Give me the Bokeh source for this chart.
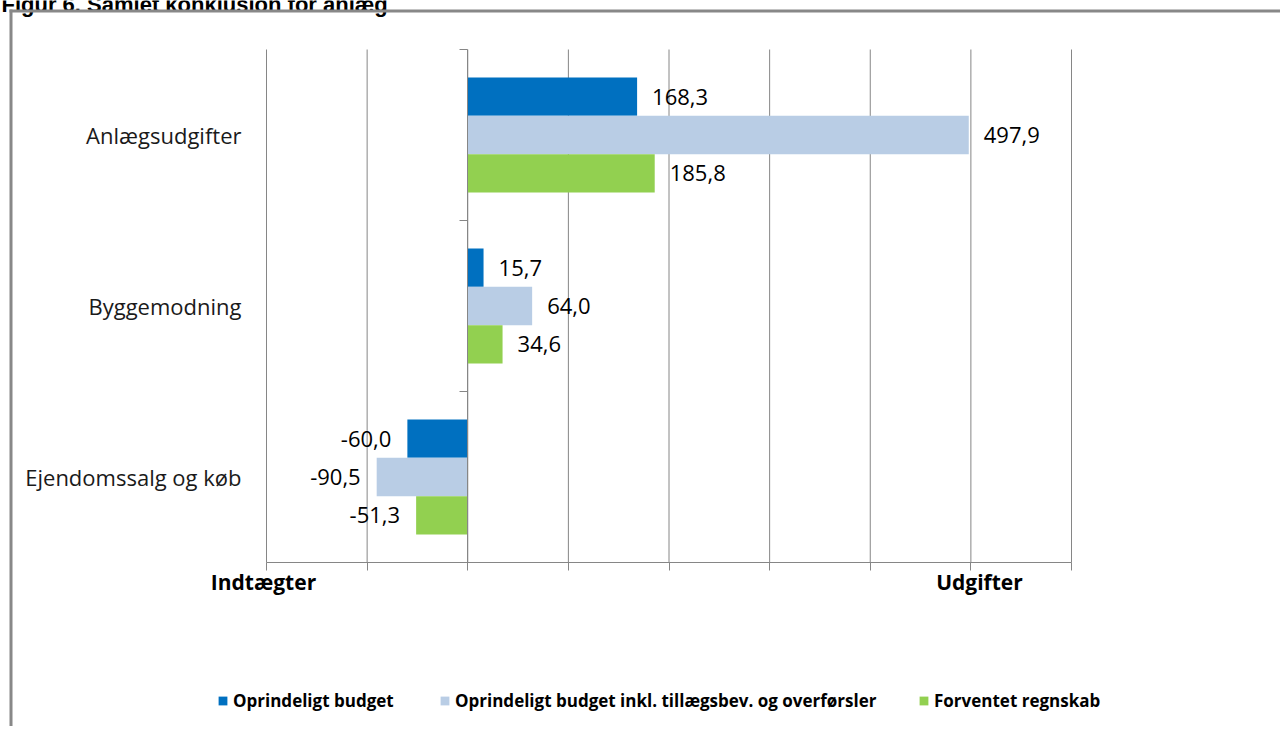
from bokeh.plotting import figure
from bokeh.models import (Range1d, LinearAxis, FixedTicker, ColumnDataSource, Legend,
                          LegendItem, Label, BoxAnnotation)
from bokeh.core.properties import value, field
from bokeh.embed import file_html
from bokeh.resources import INLINE

# ---- data ----
title_text = "Figur 6. Samlet konklusion for anlæg"
categories = ["Anlægsudgifter", "Byggemodning", "Ejendomssalg og køb"]
series_names = ["Oprindeligt budget",
                "Oprindeligt budget inkl. tillægsbev. og overførsler",
                "Forventet regnskab"]
oprindeligt_budget = [168.3, 15.7, -60.0]
budget_inkl_tillaeg = [497.9, 64.0, -90.5]
forventet_regnskab = [185.8, 34.6, -51.3]
x_ticks = [-200, -100, 0, 100, 200, 300, 400, 500, 600]
side_labels = ["Indtægter", "Udgifter"]

colors = ["#0070C0", "#B9CDE5", "#92D050"]
series_values = [oprindeligt_budget, budget_inkl_tillaeg, forventet_regnskab]

GRID = "#868686"
FONT = "Open Sans"

# ---- layout: the frame fills the whole canvas; plot area placed by pixel targets ----
W, H = 1280, 726
PX_LEFT, PX_RIGHT = 266, 1071     # pixels of first / last x tick
PX_TOP, PX_BOTTOM = 49, 562       # pixels of top / bottom of category band

n = len(categories)
sx = (PX_RIGHT - PX_LEFT) / (x_ticks[-1] - x_ticks[0])
x_start = x_ticks[0] - PX_LEFT / sx
x_end = x_start + W / sx
sy = (PX_BOTTOM - PX_TOP) / n
y_end = n + PX_TOP / sy
y_start = y_end - H / sy


def dx(px):
    return x_start + px / sx


def dy(py):
    return y_end - py / sy


centers = [n - i - 0.5 for i in range(n)]
bar_h = 0.224
offsets = [bar_h, 0.0, -bar_h]

p = figure(width=W, height=H, output_backend="svg", toolbar_location=None, title=None,
           x_range=Range1d(x_start, x_end), y_range=Range1d(y_start, y_end),
           min_border=0, x_axis_location=None, y_axis_location=None)
p.outline_line_color = None
p.background_fill_color = "white"
p.border_fill_color = "white"
p.xgrid.grid_line_color = None
p.ygrid.grid_line_color = None

# vertical gridlines, bounded to the category band
p.segment(x0=x_ticks, y0=[0] * len(x_ticks), x1=x_ticks, y1=[n] * len(x_ticks),
          line_color=GRID, line_width=1)

# bottom axis (at y = 0) with outward ticks
xaxis = LinearAxis(fixed_location=0, bounds=(x_ticks[0], x_ticks[-1]),
                   ticker=FixedTicker(ticks=x_ticks), major_tick_out=8, major_tick_in=0,
                   minor_tick_line_color=None, axis_line_color=GRID,
                   major_tick_line_color=GRID, major_label_text_color=None)
p.add_layout(xaxis, "below")

# zero axis with category boundary ticks
zero_axis = LinearAxis(fixed_location=0, bounds=(0, n), ticker=FixedTicker(ticks=list(range(n + 1))),
                       major_tick_out=8, major_tick_in=0, minor_tick_line_color=None,
                       axis_line_color=GRID, major_tick_line_color=GRID,
                       major_label_text_color=None)
p.add_layout(zero_axis, "left")

# category labels axis at the left edge of the plot area
cat_axis = LinearAxis(fixed_location=x_ticks[0], ticker=FixedTicker(ticks=centers),
                      axis_line_color=None, major_tick_line_color=None,
                      minor_tick_line_color=None, major_tick_out=0, major_tick_in=0,
                      major_label_standoff=25, major_label_text_font=FONT,
                      major_label_text_font_size="22px", major_label_text_color="#1a1a1a",
                      major_label_overrides={c: name for c, name in zip(centers, categories)})
p.add_layout(cat_axis, "left")

# bars and value labels
renderers = []
for vals, off, col in zip(series_values, offsets, colors):
    ys = [c + off for c in centers]
    src = ColumnDataSource(dict(
        y=ys, right=vals,
        label=[f"{v:.1f}".replace(".", ",") for v in vals],
        align=["left" if v >= 0 else "right" for v in vals],
        xoff=[15 if v >= 0 else -16 for v in vals],
    ))
    r = p.hbar(y="y", left=0, right="right", height=bar_h, source=src,
               fill_color=col, line_color=None)
    renderers.append(r)
    p.text(x="right", y="y", text="label", source=src, x_offset="xoff",
           text_align=field("align"), text_baseline="middle", text_font=value(FONT),
           text_font_size="22px", text_color="#000000")

# side labels below the axis
for txt, px in zip(side_labels, [263, 979]):
    p.add_layout(Label(x=dx(px), y=dy(581), text=txt, text_align="center",
                       text_baseline="middle", text_font=FONT, text_font_style="bold",
                       text_font_size="21px", text_color="#000000"))

# title (cut off at the top, as in the reference)
p.add_layout(Label(x=dx(1), y=dy(4), text=title_text, text_align="left",
                   text_baseline="alphabetic", text_font="Liberation Sans",
                   text_font_style="bold", text_font_size="22px", text_color="#000000"))

# legends, one per item for precise placement
for r, name, lx in zip(renderers, series_names, [217, 439, 918]):
    lg = Legend(items=[LegendItem(label=name, renderers=[r])], location=(lx, H - 712),
                orientation="horizontal", glyph_width=11, glyph_height=11, label_standoff=5,
                label_text_font=FONT, label_text_font_size="17px", label_text_font_style="bold",
                label_text_color="#000000", padding=0, margin=0, border_line_color=None,
                background_fill_alpha=0)
    p.add_layout(lg, "center")

# frame border lines (top and left)
p.add_layout(BoxAnnotation(left=dx(9), top=dy(9), bottom=dy(12),
                           fill_color="#888888", fill_alpha=1, line_color=None))
p.add_layout(BoxAnnotation(left=dx(9), right=dx(12), top=dy(9),
                           fill_color="#888888", fill_alpha=1, line_color=None))

open("out.html", "w").write(file_html(p, INLINE))
